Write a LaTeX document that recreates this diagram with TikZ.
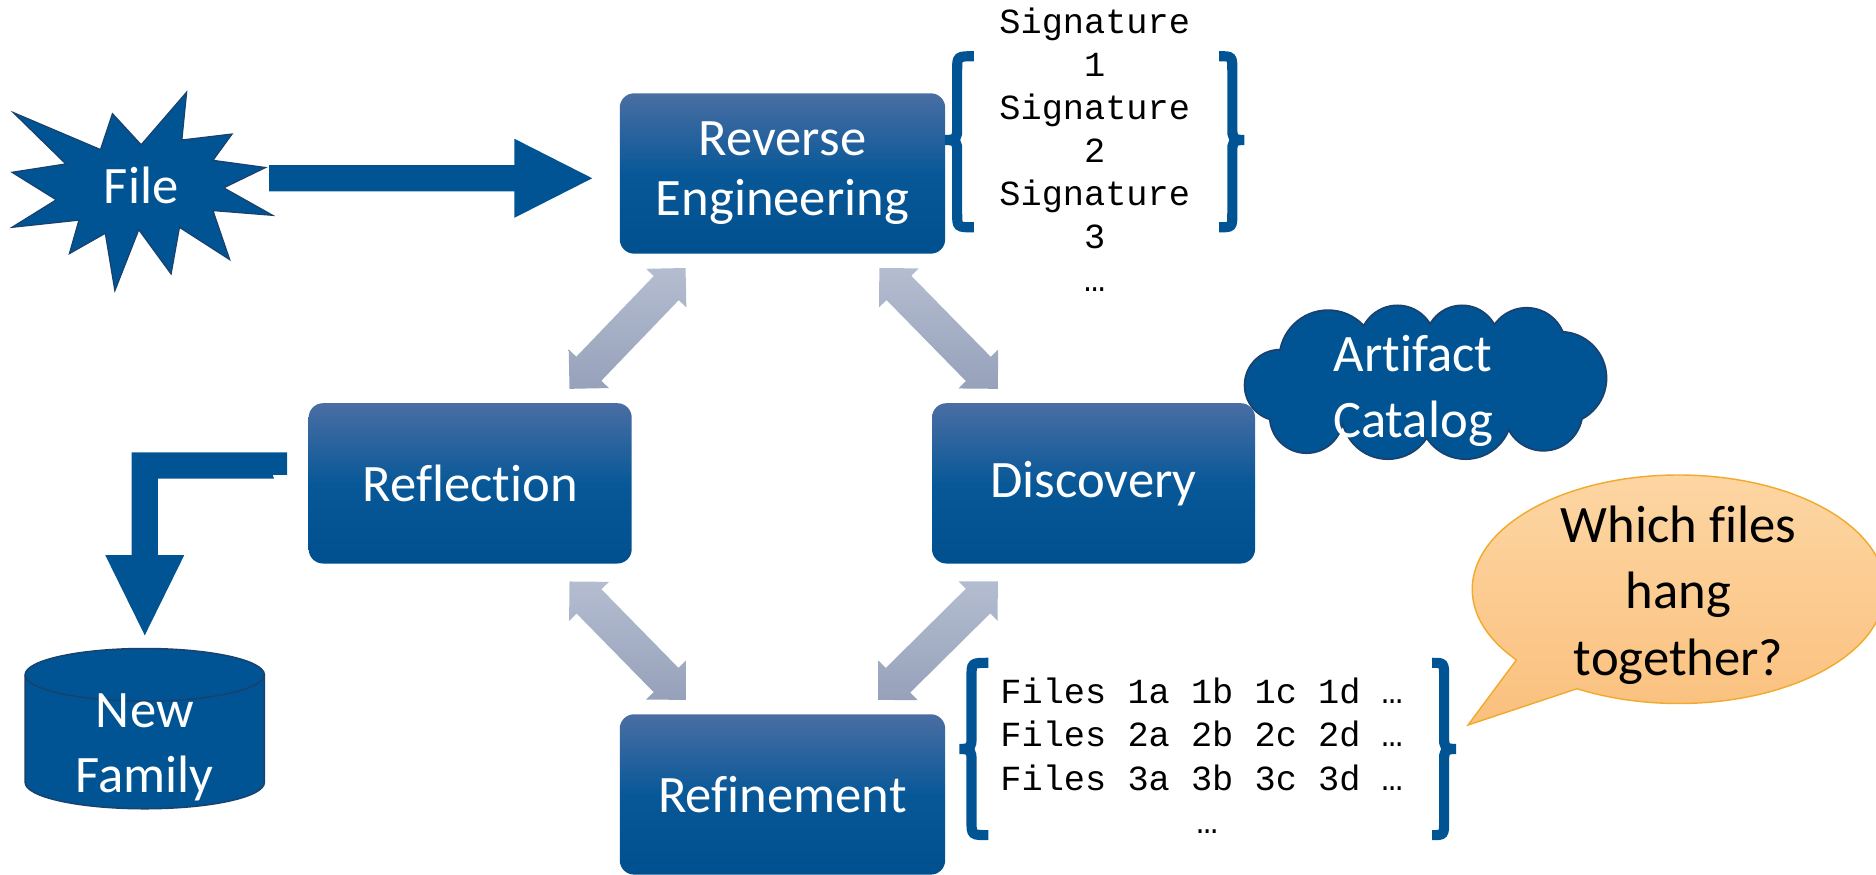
\documentclass[tikz,border=0pt]{standalone}
\usepackage{fontspec}
\setmainfont{Carlito}[Ligatures=NoCommon]
\newfontfamily\monofam{Liberation Mono}
\usetikzlibrary{calc}
\definecolor{mainblue}{RGB}{1,84,147}
\definecolor{boxtop}{RGB}{74,110,163}
\definecolor{boxmid}{RGB}{8,88,152}
\definecolor{boxbot}{RGB}{0,79,142}
\definecolor{darkline}{RGB}{25,65,110}
\definecolor{grtop}{RGB}{180,189,208}
\definecolor{grbot}{RGB}{150,161,186}
\definecolor{bubtop}{RGB}{253,215,165}
\definecolor{bubbot}{RGB}{250,192,125}
\definecolor{bubline}{RGB}{242,170,45}
\newcommand\dblarrow[2]{%
  \path ($(#1)!23.3pt!(#2)$) coordinate (ha) ($(#2)!23.3pt!(#1)$) coordinate (hb);
  \path[grayarrow] (#1) -- ($(ha)!23.3pt!90:(#2)$) -- ($(ha)!14.5pt!90:(#2)$)
    -- ($(hb)!14.5pt!-90:(#1)$) -- ($(hb)!23.3pt!-90:(#1)$) -- (#2)
    -- ($(hb)!23.3pt!90:(#1)$) -- ($(hb)!14.5pt!90:(#1)$)
    -- ($(ha)!14.5pt!-90:(#2)$) -- ($(ha)!23.3pt!-90:(#2)$) -- cycle;}
\newcommand\bracepath[6]{% xend, xvert, xtip, ytop, ymid, ybot
  \draw[bracestyle] (#1,#4) .. controls (#2,#4) and (#2,#4) .. (#2,{#4+12})
    -- (#2,{#5-10}) .. controls (#2,{#5-2}) and (#2,#5) .. (#3,#5)
    .. controls (#2,#5) and (#2,{#5+2}) .. (#2,{#5+10})
    -- (#2,{#6-12}) .. controls (#2,#6) and (#2,#6) .. (#1,#6);}
\newcommand\cloudpuffs{(1070,322) circle[radius=29pt] (1110,300) circle[radius=40pt]
  (1168,287) circle[radius=31pt] (1222,286) circle[radius=30pt]
  (1276,290) circle[radius=32pt] (1304,316) circle[radius=38pt]
  (1290,344) circle[radius=32pt] (1225,345) circle[radius=38pt]
  (1160,345) circle[radius=38pt] (1092,348) circle[radius=30pt]
  (1190,318) ellipse[x radius=105pt, y radius=38pt]}
\begin{document}
\begin{tikzpicture}[x=1pt,y=-1pt,
  box/.style={rectangle, rounded corners=12pt, minimum width=272pt, minimum height=134pt,
    top color=boxtop, bottom color=boxbot, middle color=boxmid, text=white, align=center,
    font=\fontsize{44}{50}\selectfont, inner sep=0pt},
  blk/.style={fill=mainblue},
  grayarrow/.style={top color=grtop, bottom color=grbot},
  wtext/.style={text=white, align=center, inner sep=0pt},
  mono/.style={font=\monofam\fontsize{29.5}{36}\selectfont, inner sep=0pt},
  bracestyle/.style={draw=mainblue, line width=8.5pt},
]
\useasboundingbox (0,0) rectangle (1568,731);

% boxes
\node[box] (re) at (654,145) {Reverse\\Engineering};
\node[box, minimum width=270pt] (refl) at (393,404) {Reflection};
\node[box, minimum width=270pt] (disc) at (914,404) {Discovery};
\node[box] (refi) at (654,664) {Refinement};

% star
\filldraw[fill=mainblue, draw=darkline, line width=1pt]
  (11,94) -- (84,125) -- (94,95) -- (118,121) -- (156,77) -- (152,117) -- (194,112)
  -- (178,134) -- (222,140) -- (187,157) -- (228,180) -- (178,176) -- (192,217)
  -- (150,190) -- (143,229) -- (116,192) -- (96,243) -- (88,195) -- (58,212)
  -- (66,184) -- (10,190) -- (47,167) -- (10,144) -- (55,137) -- cycle;
\node[wtext, anchor=base, font=\fontsize{44}{50}\selectfont] (file) at (118,170) {File};

% arrow file -> reverse engineering
\coordinate (fa) at (225,149);
\coordinate (fb) at (495,149);
\fill[blk] (fa) ++(0,-11) -- ++(205,0) -- ++(0,-22) -- (fb) -- ++(-65,33) -- ++(0,-22) -- ++(-205,0) -- cycle;

% elbow arrow reflection -> new family
\coordinate (ea) at (240,378);
\coordinate (eb) at (121,531);
\fill[blk] (ea) -- ++(-130,0) -- ++(0,86) -- ++(-22,0) -- (eb) -- (154,464) -- (132,464)
  -- (132,400) -- (229,400) -- (228,397) -- (240,397) -- cycle;

% cylinder
\coordinate (cyl) at (121,564);
\filldraw[fill=mainblue, draw=darkline, line width=1.2pt] (21,564) -- (21,654)
  arc[start angle=180, end angle=360, x radius=100pt, y radius=22pt] -- (221,564)
  arc[start angle=0, end angle=180, x radius=100pt, y radius=22pt] -- cycle;
\draw[darkline, line width=1.2pt] (21,564) arc[start angle=180, end angle=360, x radius=100pt, y radius=22pt];
\node[wtext, font=\fontsize{44}{54.3}\selectfont] (nf) at (121,625) {New\\Family};

% gray double arrows
\coordinate (a1) at (573,224); \coordinate (a2) at (476,325);
\coordinate (b1) at (735,224); \coordinate (b2) at (834,325);
\coordinate (c1) at (476,486); \coordinate (c2) at (573,585);
\coordinate (d1) at (834,486); \coordinate (d2) at (734,585);
\dblarrow{a1}{a2}
\dblarrow{b1}{b2}
\dblarrow{c1}{c2}
\dblarrow{d1}{d2}

% cloud
\path[draw=darkline, line width=3pt] \cloudpuffs;
\fill[mainblue] \cloudpuffs;
\node[wtext, font=\fontsize{44}{55}\selectfont] (catt) at (1181,326.5) {Artifact\\Catalog};

% speech bubble
\coordinate (bc) at (1403,492.5);
\coordinate (btip) at (1227,606);
\path[top color=bubtop, bottom color=bubbot, draw=bubline, line width=1.2pt]
  ($(bc)+(240.5:172.5pt and 95.5pt)$) -- (btip) -- ($(bc)+(218.2:172.5pt and 95.5pt)$)
  arc[start angle=218.2, end angle=-119.5, x radius=172.5pt, y radius=95.5pt] -- cycle;
\node[align=center, inner sep=0pt, font=\fontsize{44}{55.5}\selectfont] (bq) at (1403,497.3) {Which files\\hang\\together?};

% signature list
\foreach \t [count=\i] in {Signature,1,Signature,2,Signature,3,…}
  \node[mono, anchor=base] (sig\i) at (915,{28+36*(\i-1)}) {\t};
\bracepath{814}{800}{790}{47}{117}{190}
\bracepath{1019}{1030}{1040}{47}{117}{190}

% files list
\node[mono, anchor=base west] (f1) at (836,588) {Files 1a 1b 1c 1d …};
\node[mono, anchor=base west] (f2) at (836,624) {Files 2a 2b 2c 2d …};
\node[mono, anchor=base west] (f3) at (836,660.5) {Files 3a 3b 3c 3d …};
\node[mono, anchor=base] (f4) at (1009,697) {…};
\bracepath{826}{812}{802}{554}{626}{698}
\bracepath{1197}{1207}{1217}{554}{626}{698}
\end{tikzpicture}
\end{document}
